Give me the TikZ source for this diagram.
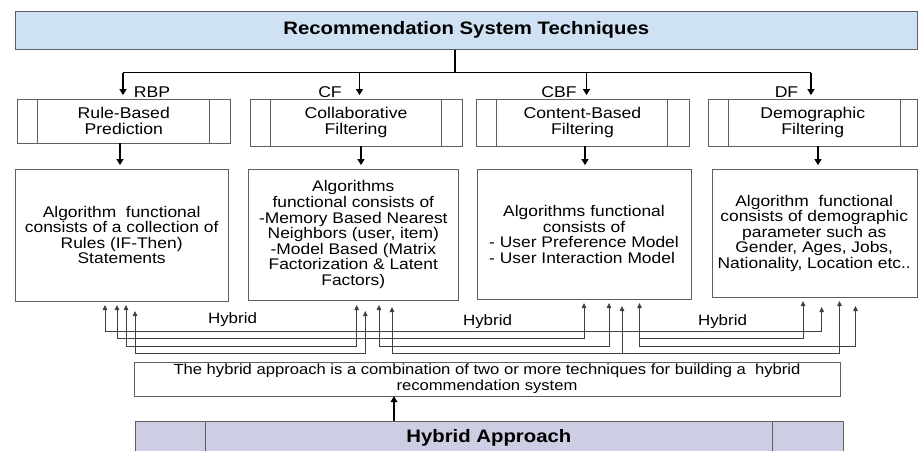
\documentclass[tikz,border=0pt]{standalone}
\usepackage{fontspec}
\setmainfont{Liberation Sans}[FakeStretch=1.13]
\usetikzlibrary{arrows.meta}
\definecolor{titleblue}{RGB}{207,226,243}
\definecolor{hybridlav}{RGB}{205,205,228}
\definecolor{boxgray}{RGB}{95,95,95}

\tikzset{top box/.style={draw=boxgray,fill=titleblue,inner sep=0,font=\bfseries\fontsize{18}{20}\selectfont},
header/.style={draw=boxgray,inner sep=0,align=center,font=\fontsize{15.6}{15.7}\selectfont},
body box/.style={draw=boxgray,inner sep=0,align=center,font=\fontsize{15.4}{15.6}\selectfont},
note box/.style={draw=boxgray,inner sep=0,align=center,font=\fontsize{14.7}{16}\selectfont},
approach box/.style={draw=boxgray,fill=hybridlav,inner sep=0,font=\bfseries\fontsize{18}{20}\selectfont},
side line/.style={draw=boxgray,line width=0.8pt},
tag/.style={inner sep=0,font=\fontsize{15.6}{16}\selectfont},
hybrid label/.style={inner sep=0,font=\fontsize{15}{16}\selectfont},
link/.style={line width=1.3pt,-{Triangle[length=6pt,width=7pt]},shorten >=4pt},
hybrid link/.style={draw=black!75,line width=0.8pt,{Triangle[length=5pt,width=4.5pt]}-{Triangle[length=5pt,width=4.5pt]}},
hybrid branch/.style={draw=black!75,line width=0.8pt,-{Triangle[length=5pt,width=4.5pt]}}}

\begin{document}
\begin{tikzpicture}[x=1pt,y=-1pt,line join=miter]
\useasboundingbox (0,0) rectangle (918,450);
\clip (0,0) rectangle (918,450);

%% Boxes
\node [top box,minimum width=902.5pt,minimum height=38.3pt] (top) at (466.25,30.15) {Recommendation System Techniques};

\node [header,minimum width=212.4pt,minimum height=43.4pt] (hdr1) at (123.8,121) {Rule-Based\\Prediction};
\node [header,minimum width=212pt,minimum height=46.4pt] (hdr2) at (356,122.5) {Collaborative\\Filtering};
\node [header,minimum width=213pt,minimum height=46.4pt] (hdr3) at (582.5,122.5) {Content-Based\\Filtering};
\node [header,minimum width=209.5pt,minimum height=46.4pt] (hdr4) at (812.75,122.5) {Demographic\\Filtering};

\node [body box,minimum width=213.3pt,minimum height=131.4pt] (body1) at (121.65,235) {Algorithm~~functional\\consists of a collection of\\Rules (IF-Then)\\Statements};
\node [body box,minimum width=210pt,minimum height=130.7pt] (body2) at (353.3,234.65) {Algorithms\\functional consists of\\-Memory Based Nearest\\Neighbors (user, item)\\-Model Based (Matrix\\Factorization \& Latent\\Factors)};
\node [body box,minimum width=213.4pt,minimum height=130pt] (body3) at (584,234.3) {Algorithms functional\\consists of\\- User Preference Model\\\rlap{- User Interaction Model}\phantom{- User Preference Model}};
\node [body box,minimum width=205pt,minimum height=128pt] (body4) at (814.2,233.3) {Algorithm~~functional\\consists of demographic\\parameter such as\\Gender, Ages, Jobs,\\Nationality, Location etc..};

\node [note box,minimum width=706pt,minimum height=34.3pt] (note) at (487,378.85) {The hybrid approach is a combination of two or more techniques for building a~~hybrid\\recommendation system};
\node [approach box,minimum width=707.7pt,minimum height=34pt] (appr) at (488.85,438) {Hybrid Approach};

%% side lines of the process boxes
\foreach \n/\l/\r in {1/20.4/21,2/21/20.4,3/21/21.5,4/20.5/17.5}{
  \draw [side line] ([xshift=\l pt]hdr\n.north west) -- ([xshift=\l pt]hdr\n.south west);
  \draw [side line] ([xshift=-\r pt]hdr\n.north east) -- ([xshift=-\r pt]hdr\n.south east);
}
\draw [side line] ([xshift=71pt]appr.north west) -- ([xshift=71pt]appr.south west);
\draw [side line] ([xshift=-70.4pt]appr.north east) -- ([xshift=-70.4pt]appr.south east);

%% Coordinates of the tree
\coordinate (bus) at (455,72.7);
\coordinate (d1) at (123,72.7);
\coordinate (d2) at (359.5,72.7);
\coordinate (d3) at (586.5,72.7);
\coordinate (d4) at (811,72.7);
\coordinate (v1) at (120,0);
\coordinate (v2) at (361,0);
\coordinate (v3) at (585,0);
\coordinate (v4) at (818,0);
\coordinate (up) at (394,0);

%% tree lines
\draw [line width=1.3pt] (top.south -| bus) -- (bus);
\draw [line width=1.3pt] (d1) -- (d4);
\foreach \n in {1,2,3,4}{
  \draw [link] (d\n) -- (hdr\n.north -| d\n);
  \draw [link] (hdr\n.south -| v\n) -- (body\n.north -| v\n);
}
\draw [link,shorten >=0pt] (appr.north -| up) -- (note.south -| up);

%% tags
\node [tag] (rbp) at (152,92) {RBP};
\node [tag] (cf) at (330,92) {CF};
\node [tag] (cbf) at (559,92) {CBF};
\node [tag] (df) at (786.5,92) {DF};

%% Coordinates of hybrid arrows
\coordinate (t1a) at (105,305);
\coordinate (t1b) at (117,305);
\coordinate (t1c) at (126,305);
\coordinate (t1d) at (135,311);
\coordinate (t2a) at (356.7,305);
\coordinate (t2b) at (365.3,311);
\coordinate (t2c) at (379,305);
\coordinate (t2d) at (392,307);
\coordinate (t3a) at (584,303);
\coordinate (t3b) at (609,303);
\coordinate (t3c) at (622,306);
\coordinate (t3d) at (639.5,303);
\coordinate (t4a) at (803,301);
\coordinate (t4b) at (821.7,307);
\coordinate (t4c) at (839.5,301);
\coordinate (t4d) at (855.5,306);
\coordinate (lv1) at (0,331.5);
\coordinate (lv2) at (0,338.5);
\coordinate (lv3) at (0,346);
\coordinate (lv4) at (0,353);

%% hybrid lines
\draw [hybrid link] (t1a) -- (t1a |- lv1) -| (t4b);
\draw [hybrid link] (t1b) -- (t1b |- lv2) -| (t3a);
\draw [hybrid link] (t1c) -- (t1c |- lv3) -| (t2a);
\draw [hybrid link] (t1d) -- (t1d |- lv4) -| (t2b);
\draw [hybrid link] (t2c) -- (t2c |- lv3) -| (t3b);
\draw [hybrid link] (t2d) -- (t2d |- lv4) -| (t4c);
\draw [hybrid link] (t3d) -- (t3d |- lv3) -| (t4d);
\draw [hybrid branch] (t3c |- lv4) -- (t3c);
\draw [hybrid branch] (t3d |- lv2) -| (t4a);

%% hybrid labels
\node [hybrid label] (hy1) at (232.5,320) {Hybrid};
\node [hybrid label] (hy2) at (487.5,322) {Hybrid};
\node [hybrid label] (hy3) at (722.5,322) {Hybrid};

\end{tikzpicture}
\end{document}
